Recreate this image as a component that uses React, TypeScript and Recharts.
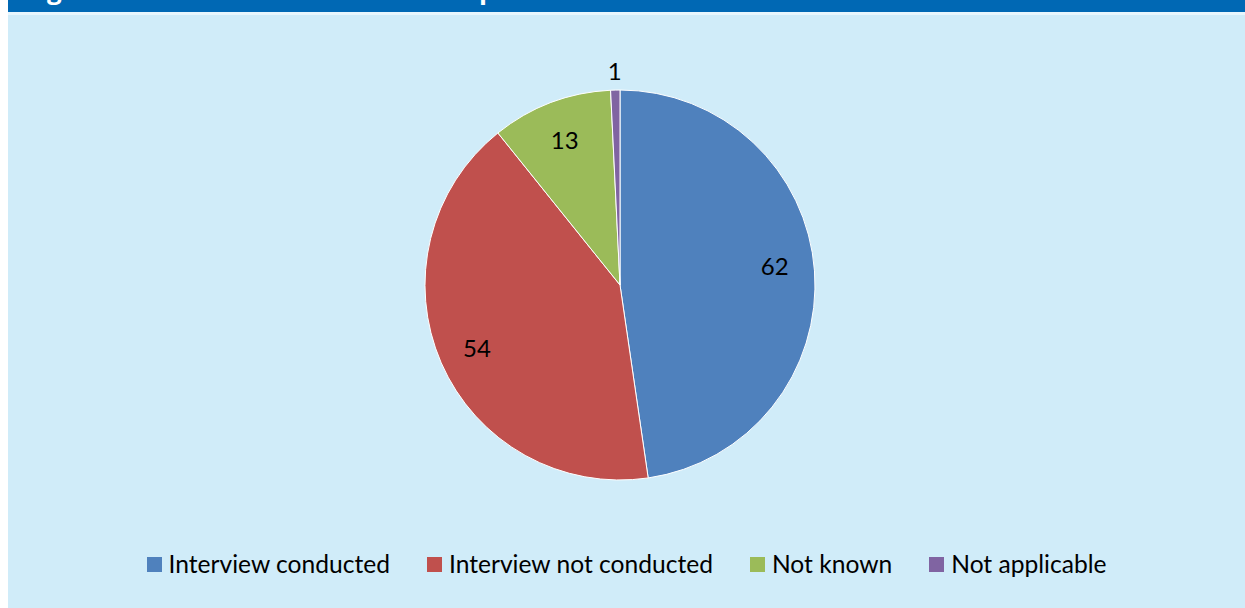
import React from "react";
import { PieChart, Pie, Cell, Legend } from "recharts";

const categories = ["Interview conducted", "Interview not conducted", "Not known", "Not applicable"];
const values = [62, 54, 13, 1];
const colors = ["#4F81BD", "#C0504D", "#9BBB59", "#8064A2"];

const data = categories.map((name, i) => ({ name, value: values[i] }));
const total = values.reduce((a, b) => a + b, 0);

const FONT = "Lato, 'Open Sans', sans-serif";
const RAD = Math.PI / 180;

const renderLabel = (props: any) => {
  const { cx, cy, midAngle, outerRadius, value } = props;
  const share = value / total;
  const inside = share > 0.05;
  const r = inside ? outerRadius * 0.8 : outerRadius * 1.1;
  const ang = inside && share > 0.45 ? midAngle + 3 : midAngle;
  const x = cx + r * Math.cos(-ang * RAD);
  const y = cy + r * Math.sin(-ang * RAD);
  return (
    <text x={x} y={y} fill="#000" fontSize={24} fontFamily={FONT} textAnchor="middle" dominantBaseline="central">
      {value}
    </text>
  );
};

const renderLegend = () => (
  <div style={{ display: "flex", justifyContent: "center", gap: 37, fontFamily: FONT, fontSize: 24.6, color: "#000" }}>
    {categories.map((c, i) => (
      <div key={c} style={{ display: "flex", alignItems: "center" }}>
        <span style={{ display: "inline-block", width: 15, height: 15, background: colors[i], marginRight: 7 }} />
        <span style={{ lineHeight: "28px" }}>{c}</span>
      </div>
    ))}
  </div>
);

export default function App() {
  return (
    <div style={{ position: "absolute", left: 8, top: 0, width: 1237, height: 608, background: "#D0ECF9" }}>
      <svg width={1237} height={15} style={{ position: "absolute", left: 0, top: 0 }}>
        <rect x={0} y={0} width={1237} height={12} fill="#0068B4" />
        <g fill="#fff" fontFamily="'Open Sans', sans-serif" fontWeight="bold" fontSize={26}>
          <text x={39} y={-1}>g</text>
          <text x={471} y={-1}>p</text>
        </g>
        <rect x={0} y={12} width={1237} height={3} fill="#E8F6FD" />
      </svg>
      <div style={{ position: "absolute", left: 0, top: 15 }}>
        <PieChart width={1237} height={593} margin={{ top: 0, right: 0, bottom: 0, left: 0 }}>
          <Pie
            data={data}
            dataKey="value"
            nameKey="name"
            cx={612}
            cy={270}
            outerRadius={195}
            startAngle={90}
            endAngle={-270}
            stroke="#ffffff"
            strokeWidth={1}
            label={renderLabel}
            labelLine={false}
            isAnimationActive={false}
          >
            {data.map((d, i) => (
              <Cell key={d.name} fill={colors[i]} />
            ))}
          </Pie>
          <Legend
            content={renderLegend}
            wrapperStyle={{ position: "absolute", top: 535, left: 0, width: 1237 }}
          />
        </PieChart>
      </div>
    </div>
  );
}
